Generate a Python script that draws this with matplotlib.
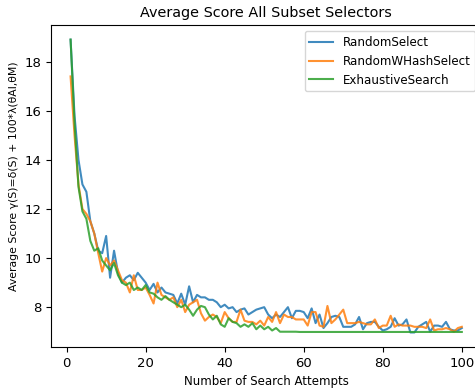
import matplotlib
matplotlib.use("Agg")
from matplotlib import pyplot as plt
import numpy as np

# average score per number of search attempts, one line per subset selector

attempts = list(range(1, 101))

random_select = [
    18.9, 15.8, 14.0, 13.0, 12.7, 11.5, 11.0, 10.3, 10.2, 10.9,
    9.2, 10.3, 9.4, 9.0, 9.2, 9.3, 9.1, 9.4, 9.2, 9.0,
    8.7, 8.95, 8.6, 8.8, 8.6, 8.55, 8.5, 8.15, 8.55, 8.1,
    8.85, 8.2, 8.5, 8.4, 8.4, 8.3, 8.3, 8.2, 8.0, 8.1,
    7.95, 8.0, 7.8, 7.9, 7.95, 7.7, 7.8, 7.9, 7.95, 8.0,
    7.7, 7.55, 7.7, 7.6, 7.8, 8.0, 7.55, 7.85, 7.85, 7.8,
    7.55, 7.95, 7.35, 7.7, 7.15, 7.35, 7.6, 7.65, 7.6, 7.2,
    7.2, 7.2, 7.3, 7.6, 7.1, 7.35, 7.4, 7.4, 7.2, 7.05,
    7.1, 7.2, 7.55, 7.25, 7.3, 7.5, 6.97, 6.97, 7.2, 7.3,
    7.4, 7.0, 7.25, 7.25, 7.2, 7.4, 7.1, 7.05, 7.05, 7.15,
]

random_hash_select = [
    17.4, 15.0, 13.0, 12.0, 11.8, 11.5, 11.0, 10.2, 9.45, 10.0,
    9.7, 9.9, 9.5, 9.1, 9.0, 8.6, 9.3, 8.7, 8.7, 8.8,
    8.5, 8.15, 9.0, 8.5, 8.4, 8.3, 8.4, 8.0, 8.3, 7.8,
    8.1, 8.2, 8.3, 7.75, 7.45, 7.6, 7.7, 7.6, 7.35, 7.8,
    7.55, 7.4, 7.4, 7.9, 7.45, 7.4, 7.4, 7.3, 7.45, 7.25,
    7.6, 7.4, 7.8, 7.35, 7.7, 7.6, 7.6, 7.5, 7.5, 7.5,
    7.25, 7.8, 7.8, 7.25, 7.2, 8.05, 7.35, 7.5, 7.7, 7.9,
    7.35, 7.35, 7.35, 7.4, 7.35, 7.3, 7.3, 7.5, 7.15, 7.25,
    7.25, 7.65, 7.2, 7.3, 7.25, 7.25, 7.25, 7.2, 7.2, 7.2,
    7.15, 7.5, 7.05, 7.1, 7.1, 7.15, 7.1, 7.0, 7.15, 7.2,
]

exhaustive_search = [
    18.9, 15.5, 12.9, 11.9, 11.6, 10.7, 10.3, 10.4, 9.9, 9.7,
    9.5, 9.8, 9.3, 9.0, 8.9, 9.0, 8.7, 8.8, 8.7, 8.9,
    8.6, 8.55, 8.4, 8.3, 8.45, 8.3, 8.2, 8.1, 8.0, 8.1,
    7.9, 7.65, 7.9, 8.05, 8.0, 7.7, 7.5, 7.65, 7.3, 7.2,
    7.55, 7.4, 7.35, 7.2, 7.3, 7.2, 7.35, 7.1, 7.25, 7.1,
    7.2, 7.05, 7.15, 7.0, 7.0, 7.0, 7.0, 7.0, 6.99, 6.99,
    6.99, 6.99, 6.99, 6.99, 6.99, 6.99, 6.99, 6.99, 6.99, 6.99,
    6.99, 6.99, 6.99, 6.99, 6.99, 6.99, 6.99, 6.99, 6.99, 6.99,
    6.99, 6.99, 6.99, 6.99, 6.99, 6.99, 6.99, 6.99, 6.99, 6.99,
    6.99, 6.99, 6.99, 6.99, 6.99, 6.99, 6.99, 6.99, 6.99, 6.99,
]

fig = plt.figure(figsize=(4.75, 3.9), dpi=100)
ax = fig.add_axes([0.1074, 0.110, 0.906, 0.826])

ax.plot(attempts, random_select, label="RandomSelect", alpha=0.85)
ax.plot(attempts, random_hash_select, label="RandomWHashSelect", alpha=0.85)
ax.plot(attempts, exhaustive_search, label="ExhaustiveSearch", alpha=0.85)

ax.set_xticks([0, 20, 40, 60, 80, 100])
ax.set_yticks([8, 10, 12, 14, 16, 18])
ax.tick_params(labelsize=9.5)
ax.set_title("Average Score All Subset Selectors", fontsize=10.4)
ax.set_xlabel("Number of Search Attempts", fontsize=8.5)
ax.set_ylabel("Average Score \u03b3(S)=\u03b4(S) + 100*\u03bb(\u03b8Al,\u03b8M)", fontsize=7.8)
ax.yaxis.set_label_coords(-0.075, 0.53)
ax.legend(loc="upper right", fontsize=8.6)

plt.savefig("out.png", dpi=100)
